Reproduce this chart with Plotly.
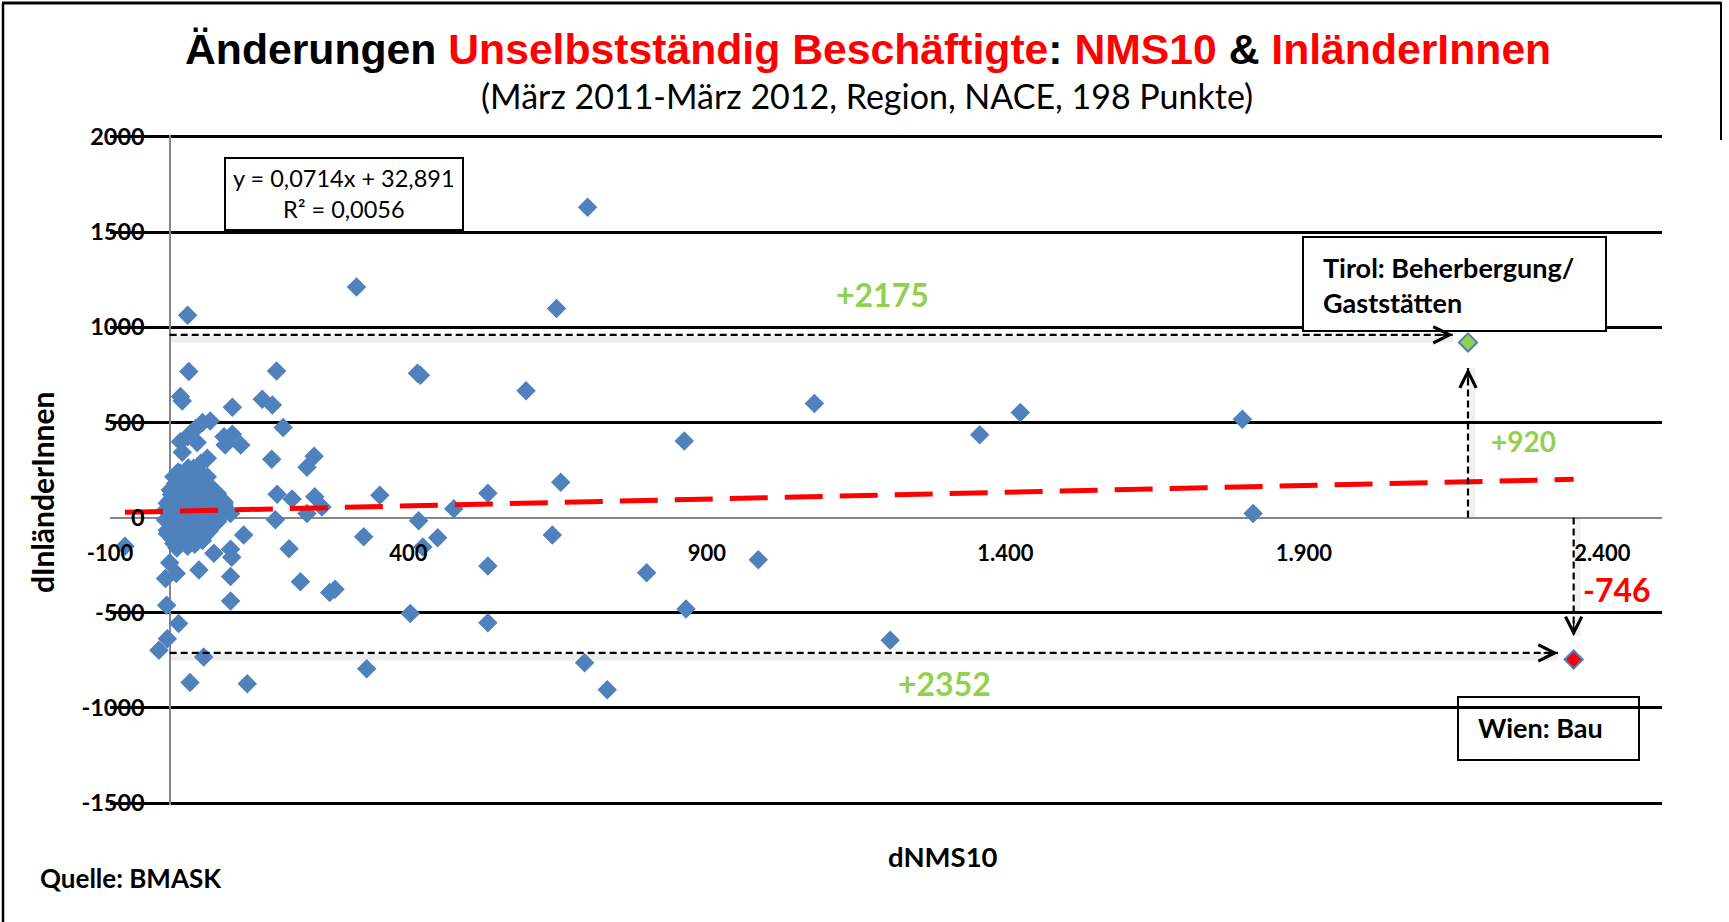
import plotly.graph_objects as go

# ---------------- data ----------------
# dNMS10 (x) and dInländerInnen (y) for the regular points
nms10 = [
    700, 313, 648, 30, 32, 179, 415, 420, 597, 1080, 1425, 1797, 1357, 862,
    18, 21, 155, 172, 105, 190, 68, 55, 44, 36, 30, 18, 21, 46, 91, 105, 119, 93,
    171, 230, 242, 63, 52, 40, 29, 15, 15, 4, 52, 57, 180, 205, 243, 255, 230,
    352, 533, 655, 476, 417, 177, 325, 449, 424, 641, 1815, 124, 77, 91, 102, 74,
    -75, 0, 11, -7, 49, 74, 102, 104, 102, 102, 200, 219, 268, 277, 533, 799, 986,
    865, 403, 533, 1207, 330, 695, 733, -5, 15, -4, -18, 57, 34, 130,
    7, 24, 40, 52, 1, 18, 35, 63, 80, 91, 68, 85, 99, -4, 13, 29, 46, -7, 7, 24,
    40, 63, 80, -4, 13, 29, 46, 7, 35, 46, 63, 78, 91, 80, 40, 1, -7, 13, 46, 18,
    35, 4, -4, 52, 63, 74, 18,
    10, 20, 30, 45, 55, 15, 25, 38, 50, 60, 5, 17, 33, 55, 70, 3, 20, 35, 52, 68,
    12, 27, 58, 42, 22, 8, 28, 48, 66, 74, 2, 22, 37, 57, 14, 31, 9, 26, 44, 61,
    77, 86, 3, 19, 36, 50, 16, 66, 30, 12, 55, 25, 42,
]
inl = [
    1630, 1212, 1098, 1063, 767, 770, 758, 748, 667, 600, 552, 516, 435, 402,
    636, 612, 622, 592, 580, 473, 508, 500, 469, 446, 425, 399, 343, 395, 425, 438, 381, 381,
    306, 265, 322, 312, 285, 259, 234, 213, 180, 136, 197, 145, 122, 98, 109, 55, 22,
    117, 128, 186, 46, -17, -11, -101, -106, -154, -92, 22, -92, 22, 75, 22, -13,
    -150, -237, -294, -320, -275, -188, -166, -208, -310, -438, -164, -337, -393, -376, -255, -290, -222,
    -480, -504, -552, -645, -794, -763, -904, -461, -556, -636, -697, -733, -866, -873,
    215, 197, 215, 180, 145, 127, 109, 109, 127, 83, 57, 22, 31, 75, 57, 39, 22, -13, -31, -13,
    -31, -4, -13, -83, -101, -83, -66, -136, -118, 250, 215, 100, 66, -22, 145, 92, 39, 4, 4, -83,
    -110, -110, -66, 92, 145, 48, 233,
    180, 160, 170, 160, 130, 100, 80, 70, 60, 80, 20, 15, 10, 35, 20, -45, -50, -40, -30, -45,
    -70, -60, -95, -140, -125, 165, 140, 120, 170, 90, 55, 100, 190, 200, 240, 260, -10, 28, 45, 12,
    65, 45, 120, 205, -20, -10, -20, -70, -150, -160, -120, 225, 35,
]
# highlighted points
tirol_nms10 = [2175]
tirol_inl = [920]
wien_nms10 = [2352]
wien_inl = [-746]

# linear trendline (Excel)
trend_slope = 0.0714
trend_intercept = 32.891
trend_r2 = 0.0056

x_tick_vals = [-100, 400, 900, 1400, 1900, 2400]
x_tick_text = ["-100", "400", "900", "1.400", "1.900", "2.400"]
y_tick_vals = [-1500, -1000, -500, 0, 500, 1000, 1500, 2000]
y_tick_text = ["-1500", "-1000", "-500", "0", "500", "1000", "1500", "2000"]

x_range = [-100, 2500]
y_range = [-1510, 2010]

# ---------------- layout helpers ----------------
W, H = 1729, 922
ML, MR, MT, MB = 110, 67, 135, 117
PW, PH = W - ML - MR, H - MT - MB


def px(X):
    return (X - ML) / PW


def py(Y):
    return (H - MB - Y) / PH


BLUE = "#4F81BD"
GREEN = "#92D050"
RED = "#FF0000"
CAL = "Lato, Carlito, 'Open Sans', sans-serif"

all_x = nms10 + tirol_nms10 + wien_nms10
trend_x = [min(all_x), max(all_x)]
trend_y = [trend_slope * v + trend_intercept for v in trend_x]

fig = go.Figure()
fig.add_trace(go.Scatter(
    x=nms10, y=inl, mode="markers",
    marker=dict(symbol="diamond", size=15, color=BLUE, line=dict(width=0)),
    hoverinfo="x+y",
))
fig.add_trace(go.Scatter(
    x=trend_x, y=trend_y, mode="lines",
    line=dict(color=RED, width=5, dash="38px,17px"),
    hoverinfo="skip",
))
fig.add_trace(go.Scatter(
    x=tirol_nms10, y=tirol_inl, mode="markers",
    marker=dict(symbol="diamond", size=14, color=GREEN, line=dict(width=2, color=BLUE)),
))
fig.add_trace(go.Scatter(
    x=wien_nms10, y=wien_inl, mode="markers",
    marker=dict(symbol="diamond", size=14, color=RED, line=dict(width=2, color=BLUE)),
))

tx, ty = tirol_nms10[0], tirol_inl[0]
wx, wy = wien_nms10[0], wien_inl[0]

# dashed arrows (start, end) in data coords, plus head direction offset (px)
arrows = [
    ((0, ty + 40), (tx - 25, ty + 40), (-16, 0)),
    ((tx, 0), (tx, ty - 134), (0, 16)),
    ((wx, 0), (wx, wy + 122), (0, -16)),
    ((0, wy + 35), (wx - 26, wy + 35), (-16, 0)),
]
shapes = []
annotations = []
for (x0, y0), (x1, y1), (ax, ay) in arrows:
    if y0 == y1:
        shapes.append(dict(type="line", xref="x", yref="y", x0=x0, y0=y0 - 22, x1=x1, y1=y1 - 22,
                           line=dict(color="rgba(0,0,0,0.07)", width=7), layer="below"))
    else:
        shapes.append(dict(type="line", xref="x", yref="y", x0=x0 + 7, y0=y0, x1=x1 + 7, y1=y1,
                           line=dict(color="rgba(0,0,0,0.06)", width=6), layer="below"))
    shapes.append(dict(type="line", xref="x", yref="y", x0=x0, y0=y0, x1=x1, y1=y1,
                       line=dict(color="black", width=2.2, dash="7px,4px")))
    annotations.append(dict(x=x1, y=y1, xref="x", yref="y", ax=ax, ay=ay, text="",
                            font=dict(size=1), showarrow=True, arrowhead=5, arrowsize=2,
                            arrowwidth=1.6, arrowcolor="black", standoff=0))

# boxes
shapes.append(dict(type="rect", xref="paper", yref="paper", x0=px(225), x1=px(463), y0=py(230), y1=py(158),
                   line=dict(color="black", width=2), fillcolor="white"))
shapes.append(dict(type="rect", xref="paper", yref="paper", x0=px(1303), x1=px(1606), y0=py(331), y1=py(237),
                   line=dict(color="black", width=2), fillcolor="white"))
shapes.append(dict(type="rect", xref="paper", yref="paper", x0=px(1458), x1=px(1639), y0=py(760), y1=py(697),
                   line=dict(color="black", width=2), fillcolor="rgba(0,0,0,0)"))
# outer frame
shapes.append(dict(type="line", xref="paper", yref="paper", x0=px(3), x1=px(3), y0=py(3), y1=py(922),
                   line=dict(color="black", width=2.5)))
shapes.append(dict(type="line", xref="paper", yref="paper", x0=px(2), x1=px(1721), y0=py(3), y1=py(3),
                   line=dict(color="black", width=3)))
shapes.append(dict(type="line", xref="paper", yref="paper", x0=px(1721), x1=px(1721), y0=py(2), y1=py(140),
                   line=dict(color="black", width=2)))


def txt(X, Y, text, size, color="black", bold=False, family=CAL, xanchor="center", **kw):
    t = f"<b>{text}</b>" if bold else text
    d = dict(x=px(X), y=py(Y), xref="paper", yref="paper", text=t, showarrow=False,
             font=dict(family=family, size=size, color=color), xanchor=xanchor, yanchor="middle")
    d.update(kw)
    annotations.append(d)


title = ("Änderungen <span style='color:#FF0000'>Unselbstständig Beschäftigte</span>: "
         "<span style='color:#FF0000'>NMS10</span> &amp; <span style='color:#FF0000'>InländerInnen</span>")
txt(868, 49, title, 42.7, bold=True, family="'Liberation Sans', Arial, sans-serif")
txt(867, 96, "(März 2011-März 2012, Region, NACE, 198 Punkte)", 34)

eq = f"y = {trend_slope:.4f}x + {trend_intercept:.3f}".replace(".", ",")
r2 = f"R² = {trend_r2:.4f}".replace(".", ",")
txt(344, 194, f"{eq}<br>{r2}", 23.5, align="center")

txt(1321, 285, "Tirol: Beherbergung/<br>Gaststätten", 27, bold=True, xanchor="left", align="left")
txt(1476, 727, "Wien: Bau", 27, bold=True, xanchor="left")

txt(882, 294, f"+{tx}", 32, color=GREEN, bold=True)
txt(1523, 441, f"+{ty}", 28, color=GREEN, bold=True)
txt(1617, 589, f"{wy}", 32, color=RED, bold=True)
txt(944, 683, f"+{wx}", 32, color=GREEN, bold=True)

txt(42, 493, "dInländerInnen", 30, bold=True, textangle=-90)
txt(943, 857, "dNMS10", 27.5, bold=True)
txt(38, 878, "Quelle: BMASK", 26, bold=True, xanchor="left")

x_axis_pos = (0 - y_range[0]) / (y_range[1] - y_range[0])
y_axis_pos = (0 - x_range[0]) / (x_range[1] - x_range[0])

fig.update_layout(
    width=W, height=H,
    margin=dict(l=ML, r=MR, t=MT, b=MB, pad=0),
    paper_bgcolor="white", plot_bgcolor="white",
    showlegend=False,
    shapes=shapes, annotations=annotations,
    xaxis=dict(
        range=x_range, anchor="free", position=x_axis_pos,
        showgrid=False, showline=False,
        zeroline=True, zerolinecolor="#868686", zerolinewidth=1.5,
        tickmode="array", tickvals=x_tick_vals, ticktext=x_tick_text,
        ticks="", ticklabelstandoff=20,
        tickfont=dict(family=CAL, size=22, color="black", weight="bold"),
    ),
    yaxis=dict(
        range=y_range, anchor="free", position=y_axis_pos,
        showgrid=True, gridcolor="black", gridwidth=2.5, showline=False,
        zeroline=True, zerolinecolor="#868686", zerolinewidth=1.5,
        tickmode="array", tickvals=y_tick_vals, ticktext=y_tick_text,
        ticks="", ticklabelstandoff=25,
        tickfont=dict(family=CAL, size=23.5, color="black", weight="bold"),
    ),
)

fig.write_html(
    "out.html",
    config={"displayModeBar": False},
    post_script="document.body.style.margin='0';document.body.style.overflow='hidden';",
)
